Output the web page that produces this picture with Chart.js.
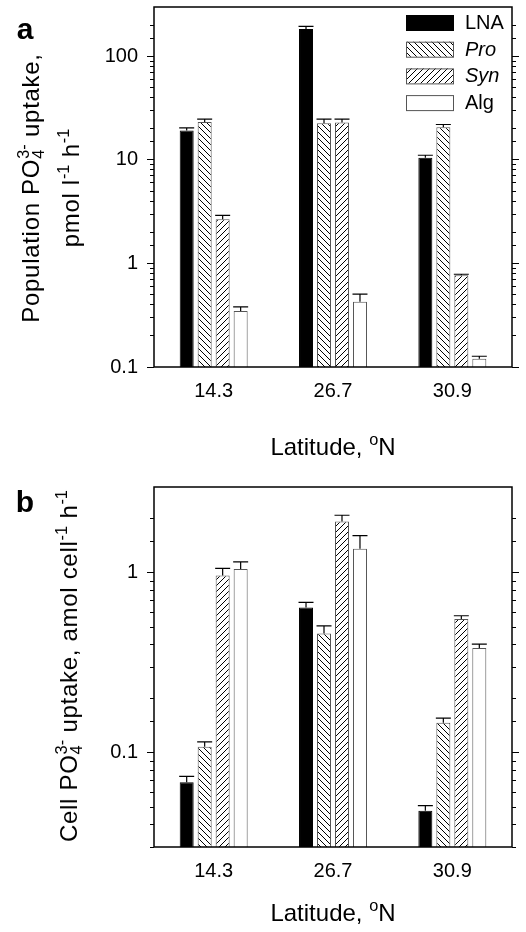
<!DOCTYPE html>
<html>
<head>
<meta charset="utf-8">
<script src="https://cdn.jsdelivr.net/npm/chart.js@4.4.1/dist/chart.umd.min.js"></script>
<style>
body { margin: 0; background: #fff; }
#wrap { position: relative; width: 526px; height: 932px; overflow: hidden; font-family: "Liberation Sans", Arial, sans-serif; color: #000; }
canvas { position: absolute; left: 0; }
.lbl { position: absolute; white-space: nowrap; line-height: 1; transform: translate(-50%, -50%); }
.rot { transform: translate(-50%, -50%) rotate(-90deg); letter-spacing: 0.7px; }
.sp, .sb { position: relative; font-size: 0.68em; letter-spacing: 0; }
.sp { top: -0.6em; }
.sb { top: 0.3em; }
.ov { margin-left: -0.556em; }
</style>
</head>
<body>
<div id="wrap">
  <canvas id="chartA" width="526" height="466" style="top:0"></canvas>
  <canvas id="chartB" width="526" height="466" style="top:466px"></canvas>

  <div class="lbl" style="left:25px;top:29px;font-size:30px;font-weight:bold">a</div>
  <div class="lbl rot" style="left:31px;top:188px;font-size:24px">Population PO<span class="sb">4</span><span class="sp ov">3-</span> uptake,</div>
  <div class="lbl rot" style="left:71px;top:188px;font-size:24px">pmol l<span class="sp">-1</span> h<span class="sp">-1</span></div>
  <div class="lbl" style="left:333px;top:447px;font-size:24px">Latitude, <span class="sp">o</span>N</div>

  <div class="lbl" style="left:25px;top:502px;font-size:30px;font-weight:bold">b</div>
  <div class="lbl rot" style="left:69px;top:666px;font-size:24px">Cell PO<span class="sb">4</span><span class="sp ov">3-</span> uptake, amol cell<span class="sp">-1</span> h<span class="sp">-1</span></div>
  <div class="lbl" style="left:333px;top:913px;font-size:24px">Latitude, <span class="sp">o</span>N</div>
</div>
<script>
const FONT = '"Liberation Sans", Arial, sans-serif';

const latitudes = ['14.3', '26.7', '30.9'];

// a: population PO4 uptake, pmol l-1 h-1
const popLNA = [19.2, 184, 10.5];
const popPro = [23.2, 22.6, 20.7];
const popSyn = [2.67, 23.0, 0.77];
const popAlg = [0.348, 0.426, 0.12];
const popLNAErr = [1.2, 11, 0.6];
const popProErr = [1.6, 2.2, 1.3];
const popSynErr = [0.25, 1.8, 0.017];
const popAlgErr = [0.033, 0.08, 0.007];
const popTicks = [0.1, 1, 10, 100];

// b: cell PO4 uptake, amol cell-1 h-1
const cellLNA = [0.0687, 0.643, 0.0477];
const cellPro = [0.108, 0.46, 0.147];
const cellSyn = [0.966, 1.93, 0.554];
const cellAlg = [1.05, 1.36, 0.382];
const cellLNAErr = [0.0054, 0.043, 0.0032];
const cellProErr = [0.007, 0.048, 0.009];
const cellSynErr = [0.094, 0.16, 0.024];
const cellAlgErr = [0.10, 0.25, 0.02];
const cellTicks = [0.1, 1];

Chart.defaults.font.family = FONT;
Chart.defaults.color = '#000';

const hatch = (dir) => {
    const s = 6;
    const c = document.createElement('canvas');
    c.width = s; c.height = s;
    const g = c.getContext('2d');
    g.fillStyle = '#fff';
    g.fillRect(0, 0, s, s);
    g.strokeStyle = '#000';
    g.lineWidth = 1;
    g.beginPath();
    for (let k = -1; k <= 1; k++) {
        if (dir === 'back') { g.moveTo(k * s, 0); g.lineTo(k * s + s, s); }
        else { g.moveTo(k * s, s); g.lineTo(k * s + s, 0); }
    }
    g.stroke();
    return g.createPattern(c, 'repeat');
};

const makeDatasets = (vals, errs) => [
    { label: 'LNA', data: vals[0], errors: errs[0], backgroundColor: '#000', borderColor: '#000', borderWidth: 1 },
    { label: 'Pro', data: vals[1], errors: errs[1], backgroundColor: hatch('back'), borderColor: '#555', borderWidth: 1, italic: true },
    { label: 'Syn', data: vals[2], errors: errs[2], backgroundColor: hatch('fwd'), borderColor: '#555', borderWidth: 1, italic: true },
    { label: 'Alg', data: vals[3], errors: errs[3], backgroundColor: '#fff', borderColor: '#555', borderWidth: 1 }
];

const errorBars = {
    id: 'errorBars',
    afterDatasetsDraw(chart) {
        const ctx = chart.ctx;
        const y = chart.scales.y;
        ctx.save();
        ctx.strokeStyle = '#000';
        ctx.lineWidth = 1.2;
        chart.data.datasets.forEach((ds, i) => {
            chart.getDatasetMeta(i).data.forEach((bar, j) => {
                const top = y.getPixelForValue(ds.data[j] + ds.errors[j]);
                const half = bar.width / 2 + 0.5;
                ctx.beginPath();
                ctx.moveTo(bar.x, bar.y);
                ctx.lineTo(bar.x, top);
                ctx.moveTo(bar.x - half, top);
                ctx.lineTo(bar.x + half, top);
                ctx.stroke();
            });
        });
        ctx.restore();
    }
};

const frame = {
    id: 'frame',
    afterDraw(chart) {
        const a = chart.chartArea;
        const ctx = chart.ctx;
        ctx.save();
        ctx.strokeStyle = '#000';
        ctx.lineWidth = 1.5;
        ctx.strokeRect(a.left, a.top, a.right - a.left, a.bottom - a.top);
        ctx.restore();
    }
};

const legendBox = {
    id: 'legendBox',
    afterDraw(chart) {
        const a = chart.chartArea;
        const ctx = chart.ctx;
        ctx.save();
        chart.data.datasets.forEach((ds, i) => {
            const bx = a.right - 106;
            const by = a.top + 8 + i * 26.7;
            ctx.fillStyle = ds.backgroundColor;
            ctx.fillRect(bx, by, 47, 15);
            ctx.strokeStyle = ds.borderColor;
            ctx.lineWidth = 1;
            ctx.strokeRect(bx + 0.5, by + 0.5, 47, 15);
            ctx.fillStyle = '#000';
            ctx.font = (ds.italic ? 'italic ' : '') + '20px ' + FONT;
            ctx.textBaseline = 'middle';
            ctx.fillText(ds.label, bx + 59, by + 8.5);
        });
        ctx.restore();
    }
};

const isIn = (v, list) => list.some(t => Math.abs(Math.log10(v) - Math.log10(t)) < 1e-6);

const yAxis = (position, major, min, max, majors, weight, width) => ({
    type: 'logarithmic',
    position: position,
    min: min,
    max: max,
    weight: weight,
    border: { display: false },
    grid: { drawOnChartArea: false, drawTicks: true, tickLength: major ? 7 : 4, color: '#000', lineWidth: 1 },
    ticks: {
        display: major && position === 'left',
        autoSkip: false,
        padding: 9,
        font: { size: 20 },
        callback: (v) => String(+Number(v).toPrecision(2))
    },
    afterBuildTicks: (scale) => {
        if (major) {
            scale.ticks = majors.map(v => ({ value: v, major: true }));
        } else {
            scale.ticks = scale.ticks.filter(t => !isIn(t.value, majors) && !isIn(t.value, [max]));
        }
    },
    afterFit: (scale) => {
        scale.width = width;
        scale.paddingTop = 0;
        scale.paddingBottom = 0;
    }
});

const createChart = (id, vals, errs, min, max, majors, padTop, xHeight, withLegend) => {
    const plugins = [errorBars, frame];
    if (withLegend) plugins.push(legendBox);
    return new Chart(id, {
        type: 'bar',
        data: { labels: latitudes, datasets: makeDatasets(vals, errs) },
        plugins: plugins,
        options: {
            responsive: false,
            animation: false,
            devicePixelRatio: 1,
            layout: { padding: { top: padTop, left: 0, right: 0, bottom: 0 } },
            categoryPercentage: 0.603,
            barPercentage: 0.778,
            plugins: { legend: { display: false }, tooltip: { enabled: false } },
            scales: {
                x: {
                    grid: { display: false },
                    border: { display: false },
                    ticks: { padding: 4, font: { size: 20 } },
                    afterFit: (scale) => {
                        scale.height = xHeight;
                        scale.paddingLeft = 0;
                        scale.paddingRight = 0;
                    }
                },
                y: yAxis('left', true, min, max, majors, 1, 154),
                yMinor: yAxis('left', false, min, max, majors, 0, 0),
                yRight: yAxis('right', true, min, max, majors, 1, 14),
                yRightMinor: yAxis('right', false, min, max, majors, 0, 0)
            }
        }
    });
};

createChart('chartA',
    [popLNA, popPro, popSyn, popAlg],
    [popLNAErr, popProErr, popSynErr, popAlgErr],
    0.1, 300, popTicks, 7, 99, true);

createChart('chartB',
    [cellLNA, cellPro, cellSyn, cellAlg],
    [cellLNAErr, cellProErr, cellSynErr, cellAlgErr],
    0.03, 3, cellTicks, 21, 85, false);
</script>
</body>
</html>
